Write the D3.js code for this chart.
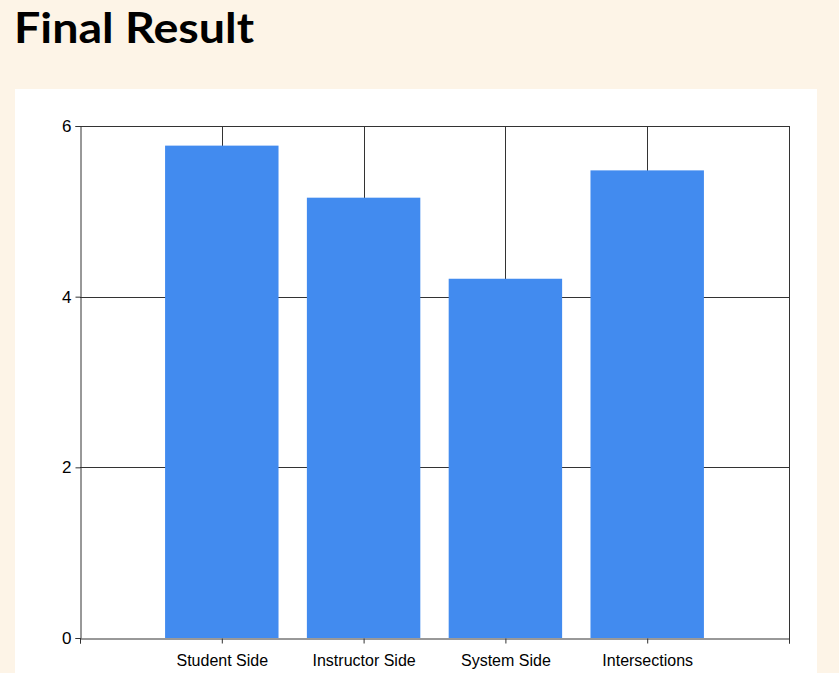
<!DOCTYPE html>
<html>
<head>
<meta charset="utf-8">
<script src="https://cdn.jsdelivr.net/npm/d3@7"></script>
<style>
  html, body { margin: 0; padding: 0; background: #fdf4e7; }
</style>
</head>
<body>
<script>
// data
var categories = ["Student Side", "Instructor Side", "System Side", "Intersections"];
var values = [5.77, 5.16, 4.21, 5.48];
var yTicks = [0, 2, 4, 6];

var totalWidth = 839, totalHeight = 673;
var plot = { left: 80, right: 789, top: 126, bottom: 638 };

var svg = d3.select('body')
  .append('svg')
  .attr('width', totalWidth)
  .attr('height', totalHeight)
  .style('display', 'block');

// page background + white panel
svg.append('rect')
  .attr('width', totalWidth).attr('height', totalHeight)
  .attr('fill', '#fdf4e7');
svg.append('rect')
  .attr('x', 15).attr('y', 89)
  .attr('width', 802).attr('height', totalHeight - 89)
  .attr('fill', '#ffffff');

svg.append('text')
  .attr('x', 14).attr('y', 43)
  .attr('font-family', 'Lato, "Open Sans", sans-serif')
  .attr('font-weight', 'bold')
  .attr('font-size', 42)
  .attr('textLength', 240)
  .attr('lengthAdjust', 'spacingAndGlyphs')
  .attr('fill', '#000')
  .text('Final Result');

// categories sit at 1..n on a linear scale 0..n+1
var xScale = d3.scaleLinear()
  .domain([0, categories.length + 1])
  .range([plot.left, plot.right]);
var step = xScale(1) - xScale(0);
var barWidth = step * 0.8;

var yScale = d3.scaleLinear()
  .domain([0, 6])
  .range([plot.bottom, plot.top]);

var gridColor = '#333';

// horizontal grid lines
svg.append('g').selectAll('line')
  .data(yTicks.filter(function(t) { return t > 0; }))
  .enter().append('line')
  .attr('x1', plot.left).attr('x2', plot.right)
  .attr('y1', function(d) { return Math.round(yScale(d)) + 0.5; })
  .attr('y2', function(d) { return Math.round(yScale(d)) + 0.5; })
  .attr('stroke', gridColor).attr('stroke-width', 1);

// vertical grid lines at categories
svg.append('g').selectAll('line')
  .data(categories)
  .enter().append('line')
  .attr('x1', function(d, i) { return Math.round(xScale(i + 1)) + 0.5; })
  .attr('x2', function(d, i) { return Math.round(xScale(i + 1)) + 0.5; })
  .attr('y1', plot.top).attr('y2', plot.bottom)
  .attr('stroke', gridColor).attr('stroke-width', 1);

// right border
svg.append('line')
  .attr('x1', plot.right + 0.5).attr('x2', plot.right + 0.5)
  .attr('y1', plot.top).attr('y2', plot.bottom + 5)
  .attr('stroke', gridColor);

// bars
svg.append('g').selectAll('rect')
  .data(values)
  .enter().append('rect')
  .attr('x', function(d, i) { return xScale(i + 1) - barWidth / 2; })
  .attr('y', function(d) { return yScale(d); })
  .attr('width', barWidth)
  .attr('height', function(d) { return yScale(0) - yScale(d); })
  .attr('fill', '#428bef');

// y axis
var yAxis = d3.axisLeft(yScale).tickValues(yTicks).tickFormat(d3.format('d'))
  .tickSize(5).tickPadding(4);
var yAxisNodes = svg.append('g')
  .attr('transform', 'translate(' + (plot.left + 0.5) + ',0)')
  .call(yAxis);
yAxisNodes.selectAll('text')
  .attr('font-family', '"Liberation Sans", Arial, sans-serif')
  .attr('font-size', 17)
  .attr('fill', '#000');

// x axis
var xAxis = d3.axisBottom(xScale)
  .tickValues(d3.range(0, categories.length + 2))
  .tickFormat(function(d) { return categories[d - 1] || ''; })
  .tickSize(5).tickPadding(11);
var xAxisNodes = svg.append('g')
  .attr('transform', 'translate(0,' + (plot.bottom + 0.5) + ')')
  .call(xAxis);
xAxisNodes.selectAll('text')
  .attr('font-family', '"Liberation Sans", Arial, sans-serif')
  .attr('font-size', 16)
  .attr('fill', '#000');

styleAxisNodes(yAxisNodes);
styleAxisNodes(xAxisNodes);

function styleAxisNodes(axisNodes) {
  axisNodes.selectAll('.domain')
    .attr('stroke', gridColor)
    .attr('stroke-width', 1);
  axisNodes.selectAll('.tick line')
    .attr('stroke', gridColor)
    .attr('stroke-width', 1);
}
</script>
</body>
</html>
